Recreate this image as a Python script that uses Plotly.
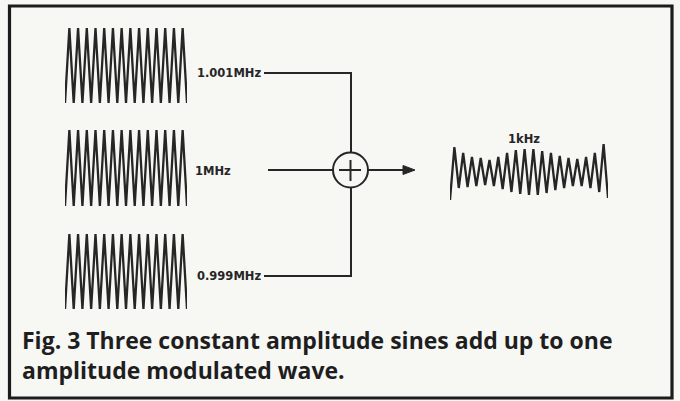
import plotly.graph_objects as go

# ---------------- data ----------------
carrier_labels = ["1.001MHz", "1MHz", "0.999MHz"]
result_label = "1kHz"
caption_lines = ["Fig. 3 Three constant amplitude sines add up to one",
                 "amplitude modulated wave."]

# relative crest / trough heights of each constant-amplitude carrier (14 cycles)
wave_1001_peaks = [1.0, 1.0, 1.0, 1.0, 1.0, 1.0, 1.0, 1.0, 1.0, 1.0, 1.0, 1.0, 1.0, 1.0]
wave_1001_troughs = [-1.0, -1.0, -1.0, -1.0, -1.0, -1.0, -1.0, -1.0, -1.0, -1.0, -1.0, -1.0, -1.0, -1.0, -1.0]
wave_1000_peaks = [1.0, 1.0, 1.0, 1.0, 1.0, 1.0, 1.0, 1.0, 1.0, 1.0, 1.0, 1.0, 1.0, 1.0]
wave_1000_troughs = [-1.0, -1.0, -1.0, -1.0, -1.0, -1.0, -1.0, -1.0, -1.0, -1.0, -1.0, -1.0, -1.0, -1.0, -1.0]
wave_0999_peaks = [1.0, 1.0, 1.0, 1.0, 1.0, 1.0, 1.0, 1.0, 1.0, 1.0, 1.0, 1.0, 1.0, 1.0]
wave_0999_troughs = [-1.0, -1.0, -1.0, -1.0, -1.0, -1.0, -1.0, -1.0, -1.0, -1.0, -1.0, -1.0, -1.0, -1.0, -1.0]

# summed (amplitude modulated) wave: crest and trough heights (18 cycles)
mod_peaks = [25, 19, 15, 14, 12, 15, 19, 22, 23, 23, 21, 19, 16, 14, 13, 15, 19, 28]
mod_troughs = [-28, -16, -15, -14, -13, -14, -17, -20, -22, -23, -23, -21, -18, -16, -14, -14, -16, -20, -26]

# ---------------- layout helpers ----------------
W, H = 680, 401
INK = "#262626"


def px(x):
    return x / W


def py(y):
    return 1 - y / H


def zigzag(peaks, troughs):
    ys = []
    for i, t in enumerate(troughs):
        ys.append(t)
        if i < len(peaks):
            ys.append(peaks[i])
    xs = [i * 0.5 for i in range(len(ys))]
    return xs, ys


fig = go.Figure()

waves = [
    (wave_1001_peaks, wave_1001_troughs, "x", "y"),
    (wave_1000_peaks, wave_1000_troughs, "x2", "y2"),
    (wave_0999_peaks, wave_0999_troughs, "x3", "y3"),
    (mod_peaks, mod_troughs, "x4", "y4"),
]
for pk, tr, xa, ya in waves:
    xs, ys = zigzag(pk, tr)
    fig.add_trace(go.Scatter(x=xs, y=ys, mode="lines", xaxis=xa, yaxis=ya,
                             line=dict(color=INK, width=2.3), hoverinfo="skip",
                             showlegend=False))

hidden = dict(visible=False, fixedrange=True)
left_dom = [px(65), px(187)]
fig.update_layout(
    xaxis=dict(domain=left_dom, range=[0, len(wave_1001_peaks)], **hidden),
    yaxis=dict(domain=[py(103), py(28)], range=[-1, 1], anchor="x", **hidden),
    xaxis2=dict(domain=left_dom, range=[0, len(wave_1000_peaks)], anchor="y2", **hidden),
    yaxis2=dict(domain=[py(206), py(130)], range=[-1, 1], anchor="x2", **hidden),
    xaxis3=dict(domain=left_dom, range=[0, len(wave_0999_peaks)], anchor="y3", **hidden),
    yaxis3=dict(domain=[py(309), py(234)], range=[-1, 1], anchor="x3", **hidden),
    xaxis4=dict(domain=[px(450), px(608)], range=[0, len(mod_peaks)], anchor="y4", **hidden),
    yaxis4=dict(domain=[py(204), py(140)], range=[-32, 32], anchor="x4", **hidden),
)

# ---------------- diagram shapes ----------------
ln = dict(color=INK, width=2)
shapes = [
    # frame
    dict(type="rect", xref="paper", yref="paper", x0=px(9.5), x1=px(672), y0=py(398), y1=py(6),
         line=dict(color="#1c1c1c", width=3.2)),
    # top input line
    dict(type="path", xref="paper", yref="paper",
         path=f"M {px(264)},{py(73)} L {px(351)},{py(73)} L {px(351)},{py(153)}", line=ln),
    # middle input line
    dict(type="line", xref="paper", yref="paper", x0=px(268), x1=px(333), y0=py(170), y1=py(170), line=ln),
    # bottom input line
    dict(type="path", xref="paper", yref="paper",
         path=f"M {px(264)},{py(276)} L {px(351)},{py(276)} L {px(351)},{py(187)}", line=ln),
    # summing circle
    dict(type="circle", xref="paper", yref="paper", x0=px(333), x1=px(368), y0=py(187.5), y1=py(152.5),
         line=ln),
    # plus sign
    dict(type="line", xref="paper", yref="paper", x0=px(339), x1=px(361), y0=py(170), y1=py(170), line=ln),
    dict(type="line", xref="paper", yref="paper", x0=px(350.5), x1=px(350.5), y0=py(160), y1=py(181), line=ln),
    # output arrow
    dict(type="line", xref="paper", yref="paper", x0=px(368), x1=px(406), y0=py(170), y1=py(170), line=ln),
    dict(type="path", xref="paper", yref="paper",
         path=f"M {px(403)},{py(165.5)} L {px(415)},{py(170)} L {px(403)},{py(174.5)} Z",
         fillcolor=INK, line=dict(color=INK, width=1)),
]

lab_font = dict(family="DejaVu Sans", size=11.5, color=INK)
annotations = [
    dict(text=f"<b>{carrier_labels[0]}</b>", x=px(263), y=py(73), xanchor="right", yanchor="middle", font=lab_font),
    dict(text=f"<b>{carrier_labels[1]}</b>", x=px(193), y=py(171), xanchor="left", yanchor="middle", font=lab_font),
    dict(text=f"<b>{carrier_labels[2]}</b>", x=px(263), y=py(276), xanchor="right", yanchor="middle", font=lab_font),
    dict(text=f"<b>{result_label}</b>", x=px(524), y=py(139), xanchor="center", yanchor="middle", font=lab_font),
]
cap_font = dict(family="Open Sans", size=23, color="#1e1e1e")
annotations.append(dict(text="<b>" + "<br>".join(caption_lines) + "</b>", x=px(20), y=py(355),
                        xanchor="left", yanchor="middle", align="left", font=cap_font))
for a in annotations:
    a.update(xref="paper", yref="paper", showarrow=False)

fig.update_layout(
    width=W, height=H, margin=dict(l=0, r=0, t=0, b=0),
    paper_bgcolor="#f7f7f4", plot_bgcolor="rgba(0,0,0,0)",
    shapes=shapes, annotations=annotations, showlegend=False,
)

fig.write_html("out.html", config={"displayModeBar": False},
               post_script="document.body.style.margin='0px';document.body.style.overflow='hidden';")
